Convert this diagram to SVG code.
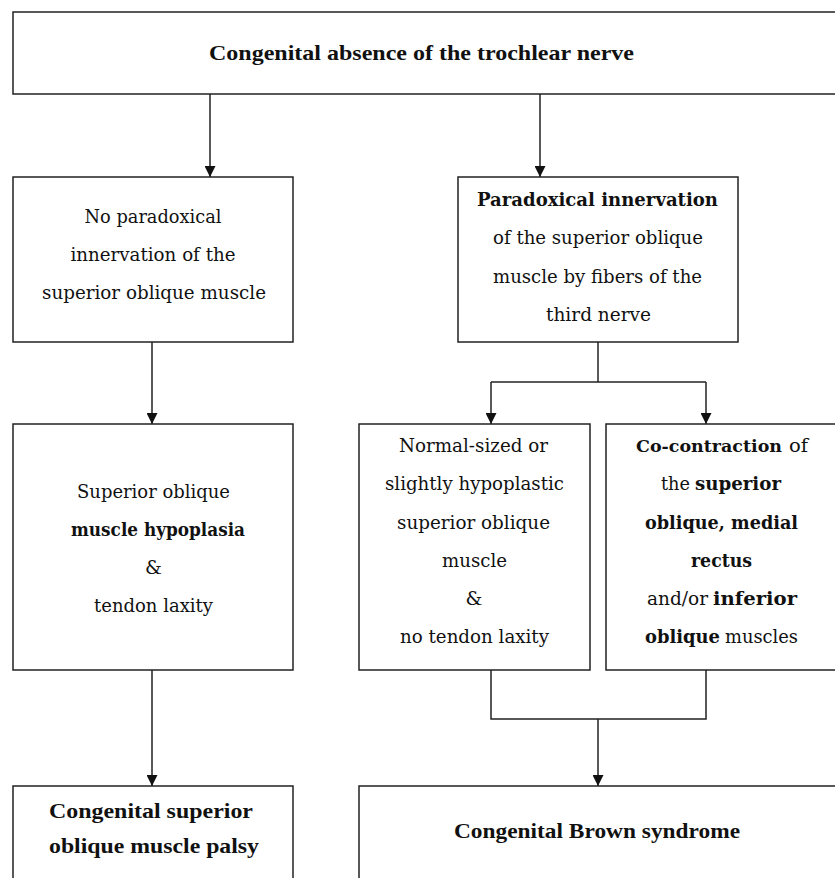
<svg xmlns="http://www.w3.org/2000/svg" width="835" height="878" viewBox="0 0 835 878">
<style>
.box{fill:#fff;stroke:#222;stroke-width:1.5}
.c{fill:none;stroke:#222;stroke-width:1.5}
.t{font-family:"DejaVu Serif","Liberation Serif",serif;font-size:19px;fill:#111;text-anchor:middle}
.s{text-anchor:start}
.h{font-family:"Liberation Serif","DejaVu Serif",serif;font-size:22px;font-weight:bold;fill:#111;text-anchor:middle}
.b{font-weight:bold}
</style>
<defs>
<marker id="arr" markerUnits="userSpaceOnUse" markerWidth="11" markerHeight="11" refX="11" refY="5.5" orient="auto">
<path d="M0,0 L11,5.5 L0,11 z" fill="#111"/>
</marker>
</defs>
<rect width="835" height="878" fill="#fff"/>
<g id="connectors">
<line class="c" x1="210" y1="94" x2="210" y2="177" marker-end="url(#arr)"/>
<line class="c" x1="540" y1="94" x2="540" y2="177" marker-end="url(#arr)"/>
<line class="c" x1="152" y1="342" x2="152" y2="424" marker-end="url(#arr)"/>
<polyline class="c" points="598,342 598,382"/>
<polyline class="c" points="491,382 706,382"/>
<line class="c" x1="491" y1="382" x2="491" y2="424" marker-end="url(#arr)"/>
<line class="c" x1="706" y1="382" x2="706" y2="424" marker-end="url(#arr)"/>
<line class="c" x1="152" y1="670" x2="152" y2="786" marker-end="url(#arr)"/>
<polyline class="c" points="491,670 491,719 706,719 706,670"/>
<line class="c" x1="598" y1="719" x2="598" y2="786" marker-end="url(#arr)"/>
</g>
<g id="n-top">
<rect class="box" x="13" y="12" width="840" height="82"/>
<text class="h" x="421.5" y="60" textLength="425" lengthAdjust="spacingAndGlyphs">Congenital absence of the trochlear nerve</text>
</g>
<g id="n-nopara">
<rect class="box" x="13" y="177" width="280" height="165"/>
<text class="t" x="153" y="223" textLength="137" lengthAdjust="spacingAndGlyphs">No paradoxical</text>
<text class="t" x="153" y="261" textLength="165" lengthAdjust="spacingAndGlyphs">innervation of the</text>
<text class="t" x="154" y="299" textLength="224" lengthAdjust="spacingAndGlyphs">superior oblique muscle</text>
</g>
<g id="n-para">
<rect class="box" x="458" y="177" width="280" height="165"/>
<text class="t b" x="597.5" y="206" textLength="241" lengthAdjust="spacingAndGlyphs">Paradoxical innervation</text>
<text class="t" x="598" y="244" textLength="210" lengthAdjust="spacingAndGlyphs">of the superior oblique</text>
<text class="t" x="597.5" y="283" textLength="209" lengthAdjust="spacingAndGlyphs">muscle by fibers of the</text>
<text class="t" x="598.5" y="321" textLength="105" lengthAdjust="spacingAndGlyphs">third nerve</text>
</g>
<g id="n-hypo">
<rect class="box" x="13" y="424" width="280" height="246"/>
<text class="t" x="153.5" y="498" textLength="153" lengthAdjust="spacingAndGlyphs">Superior oblique</text>
<text class="t b" x="158" y="536" textLength="174" lengthAdjust="spacingAndGlyphs">muscle hypoplasia</text>
<text class="t" x="153.5" y="574">&amp;</text>
<text class="t" x="153.5" y="612" textLength="119" lengthAdjust="spacingAndGlyphs">tendon laxity</text>
</g>
<g id="n-normal">
<rect class="box" x="359" y="424" width="231" height="246"/>
<text class="t" x="473.5" y="452" textLength="149" lengthAdjust="spacingAndGlyphs">Normal-sized or</text>
<text class="t" x="474.5" y="490" textLength="179" lengthAdjust="spacingAndGlyphs">slightly hypoplastic</text>
<text class="t" x="473.5" y="529" textLength="153" lengthAdjust="spacingAndGlyphs">superior oblique</text>
<text class="t" x="474.5" y="567" textLength="65" lengthAdjust="spacingAndGlyphs">muscle</text>
<text class="t" x="474" y="605">&amp;</text>
<text class="t" x="474.5" y="643" textLength="149" lengthAdjust="spacingAndGlyphs">no tendon laxity</text>
</g>
<g id="n-cocon">
<rect class="box" x="606" y="424" width="240" height="246"/>
<text class="t s b" x="636" y="452" style="font-size:17.5px" textLength="146" lengthAdjust="spacingAndGlyphs">Co-contraction</text>
<text class="t s" x="789" y="452" textLength="19" lengthAdjust="spacingAndGlyphs">of</text>
<text class="t s" x="661" y="490" textLength="29" lengthAdjust="spacingAndGlyphs">the</text>
<text class="t s b" x="695" y="490" textLength="86" lengthAdjust="spacingAndGlyphs">superior</text>
<text class="t b" x="721.5" y="529" textLength="153" lengthAdjust="spacingAndGlyphs">oblique, medial</text>
<text class="t b" x="721.5" y="567" textLength="61" lengthAdjust="spacingAndGlyphs">rectus</text>
<text class="t s" x="647" y="605" textLength="61" lengthAdjust="spacingAndGlyphs">and/or</text>
<text class="t s b" x="713" y="605" textLength="84" lengthAdjust="spacingAndGlyphs">inferior</text>
<text class="t s b" x="645" y="643" style="font-size:18px" textLength="75" lengthAdjust="spacingAndGlyphs">oblique</text>
<text class="t s" x="725" y="643" textLength="73" lengthAdjust="spacingAndGlyphs">muscles</text>
</g>
<g id="n-palsy">
<rect class="box" x="13" y="786" width="280" height="110"/>
<text class="h" x="151" y="818" textLength="204" lengthAdjust="spacingAndGlyphs">Congenital superior</text>
<text class="h" x="154" y="853" textLength="210" lengthAdjust="spacingAndGlyphs">oblique muscle palsy</text>
</g>
<g id="n-brown">
<rect class="box" x="359" y="786" width="490" height="110"/>
<text class="h" x="597" y="838" textLength="286" lengthAdjust="spacingAndGlyphs">Congenital Brown syndrome</text>
</g>
</svg>
